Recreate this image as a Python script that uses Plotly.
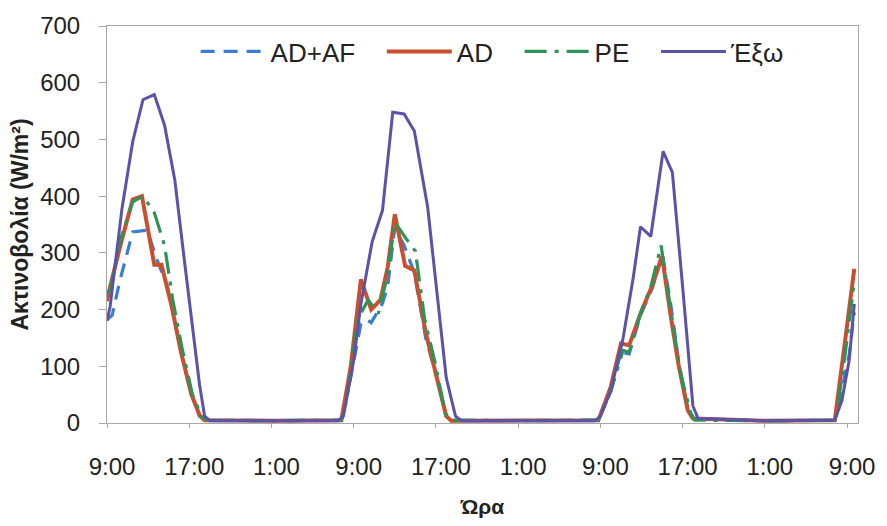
import plotly.graph_objects as go

# Hours elapsed since 9:00 of the first day
tick_vals = [0, 8, 16, 24, 32, 40, 48, 56, 64, 72]
tick_text = ["9:00", "17:00", "1:00", "9:00", "17:00", "1:00", "9:00", "17:00", "1:00", "9:00"]

t_adaf = [0, 0.5, 1.25, 1.9, 2.5, 3.9, 4.9, 5.8, 6.3, 7.2, 8.2, 9.0, 9.5, 16, 22.8,
          23.7, 24.7, 25.2, 25.7, 26.8, 27.3, 28.0, 28.9, 29.9, 31.0, 32.1, 33.0, 33.5, 41, 47.8,
          49.0, 50.0, 50.8, 51.9, 53.1, 54.0, 54.8, 55.6, 56.5, 57.0, 64, 70.8,
          71.5, 72.2, 72.7]
v_adaf = [182, 190, 251, 296, 337, 340, 286, 245, 205, 125, 51, 12, 5, 4, 5,
          80, 175, 183, 177, 211, 240, 345, 313, 265, 150, 80, 12, 4, 4, 5,
          55, 125, 122, 190, 240, 300, 215, 110, 25, 8, 4, 5,
          60, 120, 195]

t_ad = [0, 0.3, 1.4, 2.5, 3.4, 4.6, 5.3, 6.3, 7.2, 8.2, 9.0, 9.5, 16, 22.8,
        23.7, 24.7, 25.7, 26.6, 27.3, 28.0, 29.0, 29.9, 31.0, 32.1, 33.0, 33.5, 41, 47.8,
        49.0, 50.0, 50.8, 51.9, 53.1, 54.0, 54.8, 55.6, 56.5, 57.0, 64, 70.8,
        71.7, 72.7]
v_ad = [215, 240, 320, 394, 400, 279, 279, 205, 125, 51, 14, 5, 4, 5,
        98, 253, 200, 217, 274, 368, 277, 269, 160, 75, 12, 4, 4, 5,
        63, 140, 137, 193, 245, 294, 193, 103, 22, 8, 4, 5,
        130, 272]

t_pe = [0, 0.3, 1.25, 2.5, 3.5, 4.6, 5.6, 6.4, 7.3, 8.3, 9.2, 9.7, 16, 22.8,
        23.3, 24.4, 25.4, 26.4, 27.3, 28.0, 29.1, 30.0, 30.9, 31.9, 32.9, 33.5, 41, 47.8,
        49.0, 50.2, 50.8, 51.9, 52.9, 53.9, 54.8, 55.8, 56.8, 57.2, 64, 70.9,
        71.8, 72.7]
v_pe = [230, 234, 320, 390, 400, 371, 313, 217, 132, 51, 12, 5, 4, 5,
        39, 183, 217, 193, 262, 354, 325, 303, 183, 108, 17, 5, 4, 5,
        55, 128, 125, 193, 240, 313, 205, 86, 17, 5, 4, 5,
        120, 250]

t_out = [0, 0.3, 1.45, 2.5, 3.5, 4.6, 5.6, 6.6, 7.5, 8.5, 9.0, 9.5, 10.0, 16, 22.5,
         23.0, 24.0, 24.7, 25.8, 26.8, 27.8, 28.9, 29.9, 31.2, 32.2, 33.0, 33.9, 34.5, 41, 47.5,
         48.0, 49.0, 50.2, 51.2, 51.9, 52.9, 54.1, 55.0, 56.0, 56.6, 57.0, 57.5, 64, 70.8,
         71.5, 72.2, 72.7]
v_out = [180, 205, 377, 496, 570, 579, 525, 428, 291, 142, 68, 12, 4, 4, 4,
         12, 110, 210, 320, 375, 548, 545, 515, 380, 210, 80, 12, 4, 4, 4,
         12, 57, 149, 257, 346, 329, 479, 442, 240, 110, 30, 8, 4, 5,
         40, 110, 210]

names = ["AD+AF", "AD", "PE", "Έξω"]

series = [
    (names[0], t_adaf, v_adaf, "#3B7DCF", 3.2, "14px,9px"),
    (names[1], t_ad, v_ad, "#C9502F", 4, "solid"),
    (names[2], t_pe, v_pe, "#2E9356", 3.2, "22px,8px,4px,8px"),
    (names[3], t_out, v_out, "#5B52A9", 3, "solid"),
]

pad = "\u00a0" * 3
fig = go.Figure()
for i, (name, t, v, color, w, dash) in enumerate(series):
    label = name + (pad if i < len(series) - 1 else "")
    fig.add_trace(go.Scatter(x=t, y=v, mode="lines", name=label,
                             line=dict(color=color, width=w, dash=dash)))

font_family = "Arial, Liberation Sans, sans-serif"
fig.update_layout(
    width=887, height=526,
    margin=dict(l=107, r=23, t=21, b=96),
    plot_bgcolor="white", paper_bgcolor="white",
    font=dict(family=font_family, size=24, color="#222222"),
    showlegend=True,
    legend=dict(orientation="h", x=0.118, y=0.995, xanchor="left", yanchor="top",
                font=dict(size=26, color="#222222"), bgcolor="rgba(0,0,0,0)",
                itemwidth=65),
    xaxis=dict(range=[0, 73.06], tickmode="array", tickvals=tick_vals, ticktext=tick_text,
               showgrid=False, zeroline=False, showline=True, linecolor="#A8A8A8", linewidth=1,
               mirror=True, ticks="outside", ticklen=4, tickcolor="#A8A8A8",
               ticklabelstandoff=18, ticklabelshift=5,
               tickfont=dict(size=24, color="#222222"),
               title=dict(text="Ώρα", font=dict(size=21, weight="bold", color="#222222"), standoff=20)),
    yaxis=dict(range=[0, 700], dtick=100, showgrid=False, zeroline=False, showline=True,
               linecolor="#A8A8A8", linewidth=1, mirror=True, ticks="outside", ticklen=7,
               tickcolor="#A8A8A8", ticklabelstandoff=14,
               tickfont=dict(size=24, color="#222222"),
               title=dict(text="Ακτινοβολία (W/m²)", font=dict(size=23, weight="bold", color="#222222"),
                          standoff=5)),
)

fig.write_html("out.html")
